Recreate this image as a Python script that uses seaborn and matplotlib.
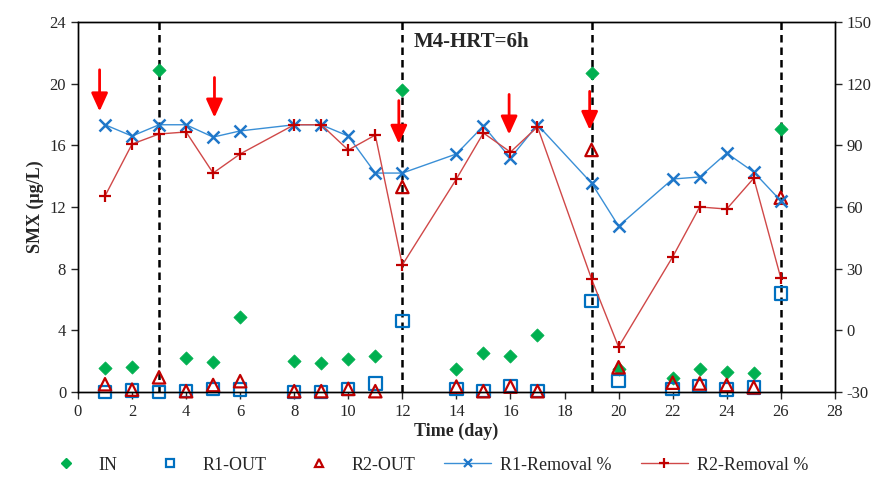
import numpy as np
import pandas as pd
import seaborn as sns
import matplotlib.pyplot as plt
from matplotlib.lines import Line2D

# ============================================
# DATA
# ============================================

days = [1, 2, 3, 4, 5, 6, 8, 9, 10, 11, 12, 14, 15, 16, 17, 19, 20, 22, 23, 24, 25, 26]

smx_in = [1.56, 1.6, 20.9, 2.2, 1.95, 4.86, 2.0, 1.87, 2.14, 2.35, 19.6,
          1.48, 2.5, 2.35, 3.7, 20.7, 1.48, 0.9, 1.5, 1.3, 1.2, 17.05]
r1_out = [0.0, 0.1, 0.0, 0.05, 0.2, 0.15, 0.0, 0.0, 0.2, 0.55, 4.6,
          0.2, 0.05, 0.4, 0.05, 5.9, 0.7, 0.2, 0.4, 0.15, 0.3, 6.4]
r2_out = [0.5, 0.15, 0.95, 0.05, 0.45, 0.7, 0.05, 0.05, 0.2, 0.05, 13.3,
          0.35, 0.05, 0.35, 0.05, 15.7, 1.6, 0.6, 0.55, 0.45, 0.3, 12.6]

r1_removal = [100, 94.5, 100, 100, 94, 97, 100, 100, 94.5, 76.5, 76.5,
              85.8, 99.4, 83.8, 100, 71.6, 50.7, 73.6, 74.6, 86.2, 77, 63]
r2_removal = [65.3, 90.6, 95.5, 96.5, 76.5, 85.8, 100, 100, 87.7, 95, 31.8,
              73.6, 96, 86.7, 99, 25, -8.1, 35.7, 60, 59, 74, 25.5]

# HRT change days and red arrows (x, y_start, y_end)
phase_days = [3, 12, 19, 26]
arrow_x = [0.8, 5.05, 11.87, 15.95, 18.93]
arrow_top = [20.9, 20.4, 18.9, 19.3, 19.5]
arrow_tip = [18.2, 17.8, 16.1, 16.7, 17.0]

df = pd.DataFrame({"day": days, "IN": smx_in, "R1": r1_out, "R2": r2_out,
                   "R1rem": r1_removal, "R2rem": r2_removal})

# ============================================
# PLOT
# ============================================

sns.set_style("ticks")
plt.rcParams['font.family'] = ['Liberation Serif', 'DejaVu Serif']
plt.rcParams['axes.unicode_minus'] = False

fig = plt.figure(figsize=(8.9, 4.78), dpi=100)
ax = fig.add_axes([0.0876, 0.18, 0.8504, 0.774])
ax2 = ax.twinx()

green = "#00B050"
blue = "#0070C0"
red = "#C00000"

sns.scatterplot(data=df, x="day", y="IN", ax=ax, marker="D", color=green,
                s=45, edgecolor=green, zorder=3, clip_on=False)
sns.scatterplot(data=df, x="day", y="R1", ax=ax, marker="s", s=80,
                facecolor="none", edgecolor=blue, linewidth=1.6, zorder=3,
                clip_on=False)
sns.scatterplot(data=df, x="day", y="R2", ax=ax, marker="^", s=80,
                facecolor="none", edgecolor=red, linewidth=1.6, zorder=4,
                clip_on=False)

sns.lineplot(data=df, x="day", y="R1rem", ax=ax2, color="#3A8FD6",
             marker="x", markersize=9, markeredgewidth=1.8,
             markeredgecolor="#1F77C9", linewidth=1.0)
sns.lineplot(data=df, x="day", y="R2rem", ax=ax2, color="#D04848",
             marker="+", markersize=9, markeredgewidth=1.6,
             markeredgecolor=red, linewidth=1.0)

for d in phase_days:
    ax.axvline(d, color="black", linestyle=(0, (3, 2)), linewidth=1.8, zorder=2)

for x0, y0, y1 in zip(arrow_x, arrow_top, arrow_tip):
    ax.annotate("", xy=(x0, y1), xytext=(x0, y0),
                arrowprops=dict(arrowstyle="-|>,head_width=0.5,head_length=1.1",
                                color="#FF0000", lw=2.0,
                                shrinkA=0, shrinkB=0), zorder=5)

ax.text(12.4, 22.7, "M4-HRT=6h", fontsize=15, fontweight="bold", va="center")

ax.set_xlim(0, 28)
ax.set_ylim(0, 24)
ax2.set_ylim(-30, 150)
ax.set_xticks(range(0, 29, 2))
ax.set_yticks(range(0, 25, 4))
ax2.set_yticks(range(-30, 151, 30))

ax.set_xlabel("Time (day)", fontsize=13, fontweight="bold", labelpad=2)
ax.set_ylabel("SMX (\u03bcg/L)", fontsize=13, fontweight="bold")
ax2.set_ylabel("")

for a in (ax, ax2):
    a.tick_params(labelsize=12, direction="out", length=5, width=1)
    for sp in a.spines.values():
        sp.set_visible(True)
        sp.set_color("black")
        sp.set_linewidth(1)

# ============================================
# LEGEND
# ============================================

handles = [
    Line2D([], [], linestyle="none", marker="D", color=green, markersize=5),
    Line2D([], [], linestyle="none", marker="s", markerfacecolor="none",
           markeredgecolor=blue, markersize=6, markeredgewidth=1.6),
    Line2D([], [], linestyle="none", marker="^", markerfacecolor="none",
           markeredgecolor=red, markersize=6, markeredgewidth=1.6),
    Line2D([], [], color="#3A8FD6", marker="x", markeredgecolor="#1F77C9",
           markersize=6, markeredgewidth=1.6, linewidth=1.0),
    Line2D([], [], color="#D04848", marker="+", markeredgecolor=red,
           markersize=7, markeredgewidth=1.6, linewidth=1.0),
]
labels = ["IN", "R1-OUT", "R2-OUT", "R1-Removal %", "R2-Removal %"]
fig.legend(handles, labels, loc="center", bbox_to_anchor=(0.478, 0.027),
           ncol=5, frameon=False, fontsize=13, handlelength=2.6,
           columnspacing=1.6, handletextpad=0.5)

fig.savefig("out.png", dpi=100)
